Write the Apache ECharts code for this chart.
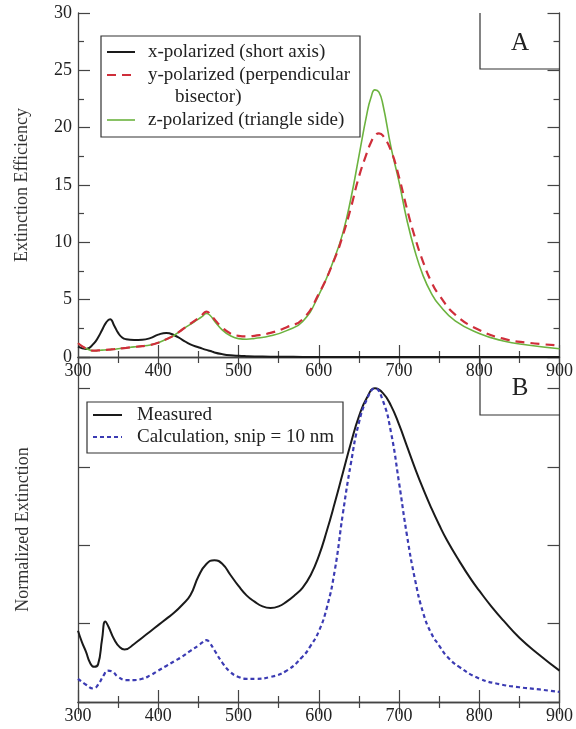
<!DOCTYPE html>
<html>
<head>
<meta charset="utf-8">
<script src="https://cdn.jsdelivr.net/npm/echarts@6/dist/echarts.min.js"></script>
<style>html,body{margin:0;padding:0;background:#fff}#c{width:576px;height:729px}</style>
</head>
<body>
<div id="c"></div>
<script>
// ---------- Panel A data ----------
var aWavelength = [300,310,320,325,330,335,340,345,350,355,360,370,380,390,400,410,420,430,440,450,455,460,465,470,480,490,500,510,520,540,560,580,600,620,630,640,650,660,665,670,675,680,690,700,710,720,730,740,750,770,800,830,860,900];
var xPolarized = [0.9,0.7,1.2,1.7,2.35,3.0,3.3,2.75,2.1,1.7,1.55,1.48,1.5,1.65,1.95,2.1,1.9,1.5,1.1,0.85,0.73,0.62,0.52,0.4,0.25,0.15,0.1,0.07,0.05,0.03,0.02,0.01,0.01,0.01,0.01,0.01,0.01,0.01,0.01,0.01,0.01,0.01,0.01,0.01,0.01,0.01,0.01,0.01,0.01,0.01,0.01,0.01,0.01,0.01];
var yPolarized = [1.2,0.75,0.55,0.57,0.6,0.62,0.65,0.68,0.72,0.76,0.8,0.88,0.95,1.05,1.25,1.55,1.9,2.4,2.9,3.4,3.7,3.95,3.75,3.3,2.55,2.05,1.85,1.8,1.85,2.1,2.6,3.3,5.5,8.6,10.6,13.0,15.7,17.8,18.7,19.3,19.5,19.3,18.0,15.7,12.9,10.4,8.3,6.6,5.4,3.7,2.35,1.6,1.25,1.0];
var zPolarized = [1.2,0.75,0.55,0.57,0.6,0.62,0.65,0.68,0.72,0.76,0.8,0.88,0.95,1.05,1.25,1.55,1.9,2.4,2.85,3.3,3.55,3.8,3.6,3.15,2.35,1.85,1.6,1.55,1.62,1.85,2.3,3.1,5.4,8.7,10.8,13.8,17.5,21.2,22.6,23.3,23.1,22.0,18.3,15.3,11.9,9.2,7.1,5.6,4.55,3.15,2.05,1.4,1.05,0.72];

// ---------- Panel B data ----------
var bWavelength = [300,305,310,315,320,325,330,334,338,345,352,358,370,380,390,400,410,420,430,440,450,460,470,480,490,500,510,520,530,540,550,560,570,580,590,600,610,620,630,640,650,660,670,680,690,700,710,720,730,740,750,760,775,790,800,815,830,850,875,900];
var measured = [0.227,0.19,0.16,0.125,0.112,0.12,0.2,0.257,0.24,0.2,0.175,0.167,0.185,0.205,0.225,0.245,0.265,0.285,0.31,0.34,0.4,0.44,0.452,0.44,0.405,0.37,0.34,0.32,0.305,0.3,0.305,0.32,0.34,0.365,0.405,0.465,0.545,0.635,0.73,0.825,0.91,0.97,1.0,0.985,0.945,0.885,0.815,0.745,0.68,0.62,0.565,0.515,0.45,0.39,0.355,0.305,0.26,0.205,0.15,0.1];
var cWavelength = [300,310,319,325,332,337,342,350,360,370,380,390,400,410,420,430,440,450,455,460,465,470,480,490,500,510,520,540,560,580,590,600,610,620,630,640,650,660,670,680,690,700,710,720,730,740,750,760,775,800,825,850,875,900];
var calculation = [0.074,0.055,0.043,0.055,0.085,0.1,0.098,0.08,0.07,0.07,0.074,0.085,0.1,0.115,0.13,0.145,0.163,0.18,0.19,0.197,0.185,0.165,0.125,0.095,0.08,0.074,0.074,0.08,0.1,0.145,0.18,0.225,0.3,0.42,0.6,0.76,0.89,0.965,1.0,0.96,0.86,0.7,0.53,0.39,0.285,0.22,0.18,0.145,0.112,0.075,0.057,0.047,0.04,0.032];

var xTicks = [300,400,500,600,700,800,900];
var aYTicks = [0,5,10,15,20,25,30];

function pairs(xs, ys){ return xs.map(function(x,i){ return [x, ys[i]]; }); }

var SERIF = '"Liberation Serif","DejaVu Serif",serif';
var AX = '#444';
var TXT = '#222';
var chart = echarts.init(document.getElementById('c'), null, {renderer:'canvas'});

function xAx(grid, pos, labels){
  return {
    type:'value', gridIndex:grid, position:pos, min:300, max:900, interval:100,
    axisLine:{show:true, lineStyle:{color:AX, width:1.3}},
    axisTick:{show:true, inside:true, length:12, lineStyle:{color:AX, width:1.2}},
    minorTick:{show:true, splitNumber:2, length:6, lineStyle:{color:AX, width:1.2}},
    splitLine:{show:false},
    axisLabel:{show:labels, margin:5, color:TXT, fontFamily:SERIF, fontSize:18,
      formatter:function(v){ return xTicks.indexOf(v) >= 0 ? String(v) : ''; }}
  };
}
function yAx(grid, pos, opts){
  var o = {
    type:'value', gridIndex:grid, position:pos, min:opts.min, max:opts.max, interval:opts.interval,
    axisLine:{show:true, lineStyle:{color:AX, width:1.3}},
    axisTick:{show:true, inside:true, length:12, lineStyle:{color:AX, width:1.2}},
    minorTick:{show:opts.minor, splitNumber:2, length:6, lineStyle:{color:AX, width:1.2}},
    splitLine:{show:false},
    axisLabel:{show:opts.labels, margin:6, color:TXT, fontFamily:SERIF, fontSize:18,
      formatter:function(v){ return aYTicks.indexOf(v) >= 0 ? String(v) : ''; }}
  };
  if (opts.name) {
    o.name = opts.name; o.nameLocation = 'middle'; o.nameRotate = 90; o.nameGap = opts.nameGap;
    o.nameTextStyle = {fontFamily:SERIF, fontSize:18, color:'#333'};
  }
  return o;
}

var SM = 0.5;
var option = {
  animation:false,
  backgroundColor:'#fff',
  grid:[
    {left:78, top:13, width:482, height:344},
    {left:78, top:357, width:482, height:345}
  ],
  xAxis:[
    xAx(0,'bottom',true),
    xAx(0,'top',false),
    xAx(1,'bottom',true),
    xAx(1,'top',false)
  ],
  yAxis:[
    yAx(0,'left',{min:0,max:30,interval:5,minor:true,labels:true,name:'Extinction Efficiency',nameGap:47}),
    yAx(0,'right',{min:0,max:30,interval:5,minor:true,labels:false}),
    yAx(1,'left',{min:0,max:1.1,interval:0.25,minor:false,labels:false,name:'Normalized Extinction',nameGap:46}),
    yAx(1,'right',{min:0,max:1.1,interval:0.25,minor:false,labels:false})
  ],
  series:[
    {name:'x-polarized (short axis)', type:'line', xAxisIndex:0, yAxisIndex:0, data:pairs(aWavelength,xPolarized),
      symbol:'none', smooth:SM, lineStyle:{color:'#1a1a1a', width:2}, z:3},
    {name:'y-polarized (perpendicular bisector)', type:'line', xAxisIndex:0, yAxisIndex:0, data:pairs(aWavelength,yPolarized),
      symbol:'none', smooth:SM, lineStyle:{color:'#cf2e3a', width:2.2, type:[9,6]}, z:4},
    {name:'z-polarized (triangle side)', type:'line', xAxisIndex:0, yAxisIndex:0, data:pairs(aWavelength,zPolarized),
      symbol:'none', smooth:SM, lineStyle:{color:'#6cb33f', width:1.6}, z:3},
    {name:'Measured', type:'line', xAxisIndex:2, yAxisIndex:2, data:pairs(bWavelength,measured),
      symbol:'none', smooth:SM, lineStyle:{color:'#1a1a1a', width:2}, z:3},
    {name:'Calculation, snip = 10 nm', type:'line', xAxisIndex:2, yAxisIndex:2, data:pairs(cWavelength,calculation),
      symbol:'none', smooth:SM, lineStyle:{color:'#3b3bb3', width:2.2, type:[4,3]}, z:3}
  ],
  graphic:[
    // legend A
    {type:'rect', shape:{x:101, y:36, width:259, height:101}, style:{fill:'#fff', stroke:'#333', lineWidth:1.2}, z:10},
    {type:'line', shape:{x1:107,y1:52,x2:135,y2:52}, style:{stroke:'#1a1a1a', lineWidth:2}, z:11},
    {type:'line', shape:{x1:107,y1:75,x2:135,y2:75}, style:{stroke:'#cf2e3a', lineWidth:2.2, lineDash:[9,6]}, z:11},
    {type:'line', shape:{x1:107,y1:120,x2:135,y2:120}, style:{stroke:'#6cb33f', lineWidth:1.6}, z:11},
    {type:'text', x:148, y:52, style:{text:'x-polarized (short axis)', font:'19px '+SERIF, fill:TXT, verticalAlign:'middle'}, z:11},
    {type:'text', x:148, y:75, style:{text:'y-polarized (perpendicular', font:'19px '+SERIF, fill:TXT, verticalAlign:'middle'}, z:11},
    {type:'text', x:175, y:97, style:{text:'bisector)', font:'19px '+SERIF, fill:TXT, verticalAlign:'middle'}, z:11},
    {type:'text', x:148, y:120, style:{text:'z-polarized (triangle side)', font:'19px '+SERIF, fill:TXT, verticalAlign:'middle'}, z:11},
    // A label box
    {type:'polyline', shape:{points:[[480,13],[480,69],[560,69]]}, style:{stroke:'#333', lineWidth:1.2, fill:null}, z:10},
    {type:'text', x:520, y:43, style:{text:'A', font:'25px '+SERIF, fill:TXT, align:'center', verticalAlign:'middle'}, z:11},
    // legend B
    {type:'rect', shape:{x:87, y:402, width:256, height:51}, style:{fill:'#fff', stroke:'#333', lineWidth:1.2}, z:10},
    {type:'line', shape:{x1:93,y1:415,x2:122,y2:415}, style:{stroke:'#1a1a1a', lineWidth:2}, z:11},
    {type:'line', shape:{x1:93,y1:437,x2:122,y2:437}, style:{stroke:'#3b3bb3', lineWidth:2.2, lineDash:[4,3]}, z:11},
    {type:'text', x:137, y:415, style:{text:'Measured', font:'19px '+SERIF, fill:TXT, verticalAlign:'middle'}, z:11},
    {type:'text', x:137, y:437, style:{text:'Calculation, snip = 10 nm', font:'19px '+SERIF, fill:TXT, verticalAlign:'middle'}, z:11},
    // B label box
    {type:'polyline', shape:{points:[[480,357],[480,415],[560,415]]}, style:{stroke:'#333', lineWidth:1.2, fill:null}, z:10},
    {type:'text', x:520, y:388, style:{text:'B', font:'25px '+SERIF, fill:TXT, align:'center', verticalAlign:'middle'}, z:11}
  ]
};
chart.setOption(option);
</script>
</body>
</html>
